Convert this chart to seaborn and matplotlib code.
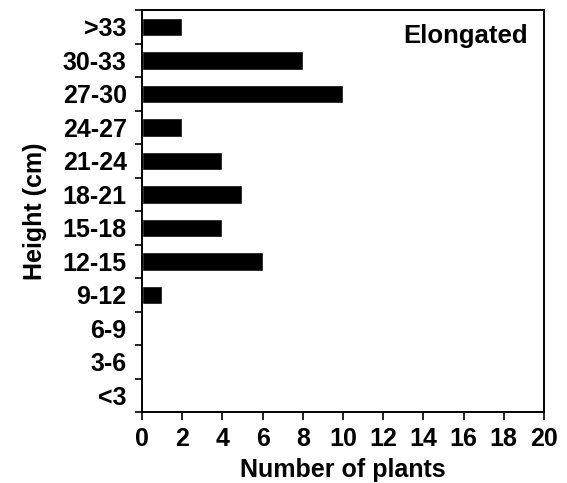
import matplotlib
matplotlib.use("Agg")
import matplotlib.pyplot as plt
from matplotlib.ticker import FixedLocator
import seaborn as sns
import pandas as pd
import numpy as np

# Height classes, top to bottom, and plant counts per class
heights = [">33", "30-33", "27-30", "24-27", "21-24", "18-21",
           "15-18", "12-15", "9-12", "6-9", "3-6", "<3"]
counts = [2, 8, 10, 2, 4, 5, 4, 6, 1, 0, 0, 0]
x_ticks = list(range(0, 21, 2))

df = pd.DataFrame({"height": heights, "plants": counts})

sns.set_theme(style="ticks")
plt.rcParams["font.family"] = ["Liberation Sans", "DejaVu Sans"]
plt.rcParams.update({
    "font.weight": "bold",
    "text.color": "black",
    "axes.labelcolor": "black",
    "xtick.color": "black",
    "ytick.color": "black",
    "xtick.labelcolor": "black",
    "ytick.labelcolor": "black",
})

FS = 18

fig = plt.figure(figsize=(5.67, 4.83), dpi=100)
ax = fig.add_axes([0.2504, 0.147, 0.709, 0.832])

sns.barplot(data=df, x="plants", y="height", order=heights, color="black",
            width=0.55, saturation=1, ax=ax, orient="h")

ax.set_xlim(0, 20)
ax.set_ylim(len(heights) - 0.5, -0.5)
ax.set_xticks(x_ticks)
ax.set_xticklabels([str(t) for t in x_ticks], fontsize=FS, fontweight="bold")
ax.set_yticks(np.arange(len(heights)))
ax.set_yticklabels(heights, fontsize=FS, fontweight="bold")
ax.yaxis.set_minor_locator(FixedLocator(np.arange(-0.5, len(heights), 1.0)))

ax.tick_params(axis="y", which="major", length=0, pad=11)
ax.tick_params(axis="y", which="minor", length=5, width=1.2, direction="out")
ax.tick_params(axis="x", which="major", length=6, width=1.2, direction="out",
               pad=5)

for side in ["left", "right", "top", "bottom"]:
    ax.spines[side].set_visible(True)
    ax.spines[side].set_linewidth(1.4)
    ax.spines[side].set_color("black")

ax.set_xlabel("Number of plants", fontsize=FS, fontweight="bold", labelpad=5)
ax.set_ylabel("Height (cm)", fontsize=FS, fontweight="bold", labelpad=11)

ax.text(0.960, 0.918, "Elongated", transform=ax.transAxes, ha="right",
        va="baseline", fontsize=18.5, fontweight="bold")

fig.savefig("out.png", dpi=100, facecolor="white")
